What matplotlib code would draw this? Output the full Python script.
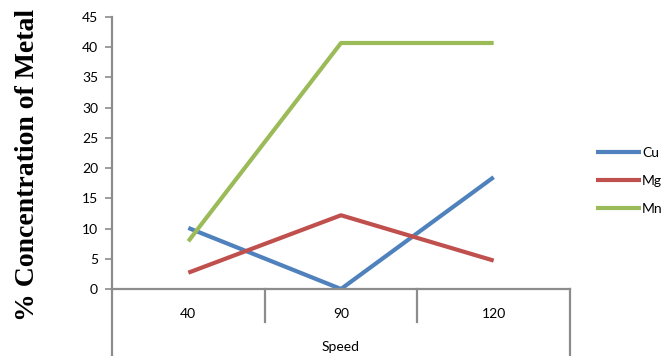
import numpy as np
from matplotlib import pyplot as plt
import matplotlib as mpl

speeds = ['40', '90', '120']
cu = [10.1, 0.0, 18.5]
mg = [2.7, 12.2, 4.7]
mn = [7.9, 40.7, 40.7]

series = [('Cu', cu, '#4f81bd'), ('Mg', mg, '#c0504d'), ('Mn', mn, '#9bbb59')]

AXIS_GREY = '#8c8c8c'


def set_mpl():
    mpl.rcParams.update({
        'font.family': ['Lato', 'DejaVu Sans'],
        'font.size': 10,
        'savefig.dpi': 100,
    })


def plot_figure():
    set_mpl()
    fig = plt.figure(figsize=(6.69, 3.56), dpi=100)
    W, H = 669, 356
    ax = fig.add_axes([112 / W, (H - 289) / H, (570 - 112) / W, (289 - 17) / H])

    x = np.arange(len(speeds))
    for name, vals, col in series:
        ax.plot(x, vals, color=col, linewidth=3, solid_capstyle='butt', label=name)

    ax.set_xlim(-0.5, len(speeds) - 0.5)
    ax.set_ylim(0, 45)
    ax.set_yticks(range(0, 46, 5))
    ax.set_xticks(x)
    ax.set_xticklabels(speeds)
    ax.tick_params(axis='y', length=5, width=1.2, color=AXIS_GREY, pad=5, labelsize=10)
    ax.tick_params(axis='x', length=0, pad=14, labelsize=10)

    for s in ['top', 'right']:
        ax.spines[s].set_visible(False)
    for s in ['left', 'bottom']:
        ax.spines[s].set_color(AXIS_GREY)
        ax.spines[s].set_linewidth(1.6)

    # category separators and outer lines under the axis
    low = -(356 - 289) / (289 - 17)
    sep = -(322 - 289) / (289 - 17)
    ax.plot([-0.5, -0.5], [0, low], transform=ax.get_xaxis_transform(),
            color=AXIS_GREY, lw=1.6, clip_on=False)
    ax.plot([2.5, 2.5], [0, low], transform=ax.get_xaxis_transform(),
            color=AXIS_GREY, lw=1.6, clip_on=False)
    for b in [0.5, 1.5]:
        ax.plot([b, b], [0, sep], transform=ax.get_xaxis_transform(),
                color=AXIS_GREY, lw=1.6, clip_on=False)

    ax.set_xlabel('Speed', fontsize=10, labelpad=15)
    fig.text(28 / W, 0.536, '% Concentration of Metal', rotation=90,
             ha='center', va='center', fontsize=20, fontweight='bold',
             family=['Liberation Serif', 'DejaVu Serif'])

    ax.legend(loc='center left', bbox_to_anchor=(1.03, 0.397), frameon=False,
              handlelength=3.2, handletextpad=0.1, labelspacing=1.15,
              fontsize=10)

    plt.savefig('out.png', dpi=100)


if __name__ == "__main__":
    plot_figure()
